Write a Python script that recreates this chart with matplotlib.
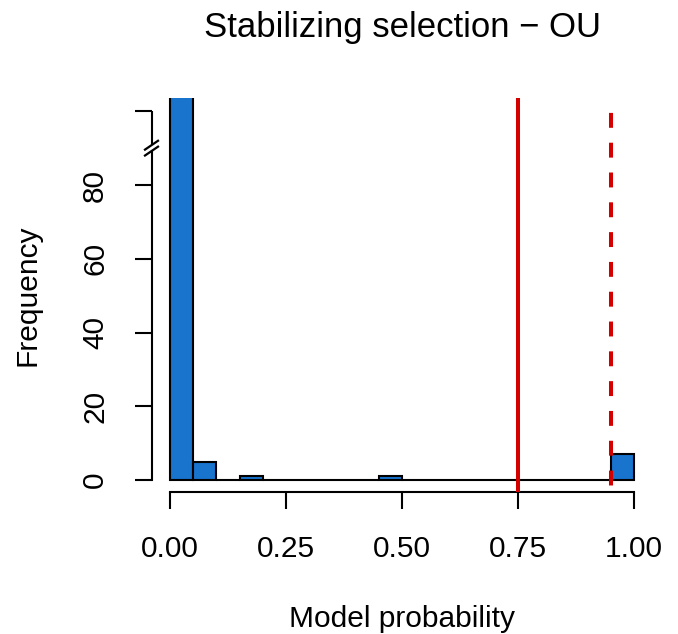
import matplotlib
matplotlib.use("Agg")
import matplotlib.pyplot as plt
import matplotlib.transforms as mtransforms

plt.rcParams['font.family'] = ['Liberation Sans', 'DejaVu Sans']

# ---- data ----
bin_starts = [0.00, 0.05, 0.10, 0.15, 0.20, 0.25, 0.30, 0.35, 0.40, 0.45,
              0.50, 0.55, 0.60, 0.65, 0.70, 0.75, 0.80, 0.85, 0.90, 0.95]
bin_width = 0.05
counts = [110, 5, 0, 1, 0, 0, 0, 0, 0, 1, 0, 0, 0, 0, 0, 0, 0, 0, 0, 7]
x_ticks = [0.00, 0.25, 0.50, 0.75, 1.00]
x_tick_labels = ['0.00', '0.25', '0.50', '0.75', '1.00']
y_ticks = [0, 20, 40, 60, 80, 100]
y_tick_labels = ['0', '20', '40', '60', '80', '']
solid_line_x = 0.75
dashed_line_x = 0.95
break_at = 90
title = 'Stabilizing selection \u2212 OU'
xlabel = 'Model probability'
ylabel = 'Frequency'

W, H = 678, 634
fig = plt.figure(figsize=(W / 100, H / 100), dpi=100)
ax = fig.add_axes([151.5 / W, (H - 491.5) / H, (652.6 - 151.5) / W, (491.5 - 98) / H])

ax.bar(bin_starts, counts, width=bin_width, align='edge', color='#1874CD',
       edgecolor='black', linewidth=1.5, zorder=2)

ax.axvline(solid_line_x, color='#D40000', lw=2.9, zorder=3)
ax.axvline(dashed_line_x, ymin=1, ymax=0, color='#D40000', lw=2.9, zorder=3,
           linestyle=(3.7, (3.7, 3.7)))

ax.set_xlim(-0.04, 1.04)
ax.set_ylim(-3.12, 103.6)

for s in ['top', 'right']:
    ax.spines[s].set_visible(False)
ax.spines['bottom'].set_bounds(0, 1)
ax.spines['bottom'].set_linewidth(1.5)
ax.spines['left'].set_linewidth(1.5)
ax.spines['left'].set_bounds(0, break_at - 0.8)

# upper segment of y axis and break marks
tr = mtransforms.blended_transform_factory(ax.transAxes, ax.transData)
ax.plot([0, 0], [break_at + 0.8, 100], color='black', lw=1.5, transform=tr,
        clip_on=False, solid_capstyle='butt')
for yc in (break_at - 0.8, break_at + 0.8):
    ax.plot([-0.013, 0.013], [yc - 1.2, yc + 1.2], color='black', lw=1.6,
            transform=tr, clip_on=False)

ax.set_xticks(x_ticks, x_tick_labels)
ax.set_yticks(y_ticks, y_tick_labels)
ax.tick_params(axis='both', direction='out', length=12.5, width=1.5,
               labelsize=21.5, color='black')
ax.tick_params(axis='x', pad=18.5)
ax.tick_params(axis='y', pad=18)
for lab in ax.get_yticklabels():
    lab.set_rotation(90)
    lab.set_va('center')
    lab.set_ha('right')

fig.text(402 / W, 1 - 37 / H, title, ha='center', va='baseline', fontsize=25)
fig.text(402 / W, 1 - 627 / H, xlabel, ha='center', va='baseline', fontsize=21.5)
fig.text(28 / W, 1 - 295 / H, ylabel, ha='center', va='center', rotation=90,
         fontsize=21.5)

fig.savefig('out.png', dpi=100)
